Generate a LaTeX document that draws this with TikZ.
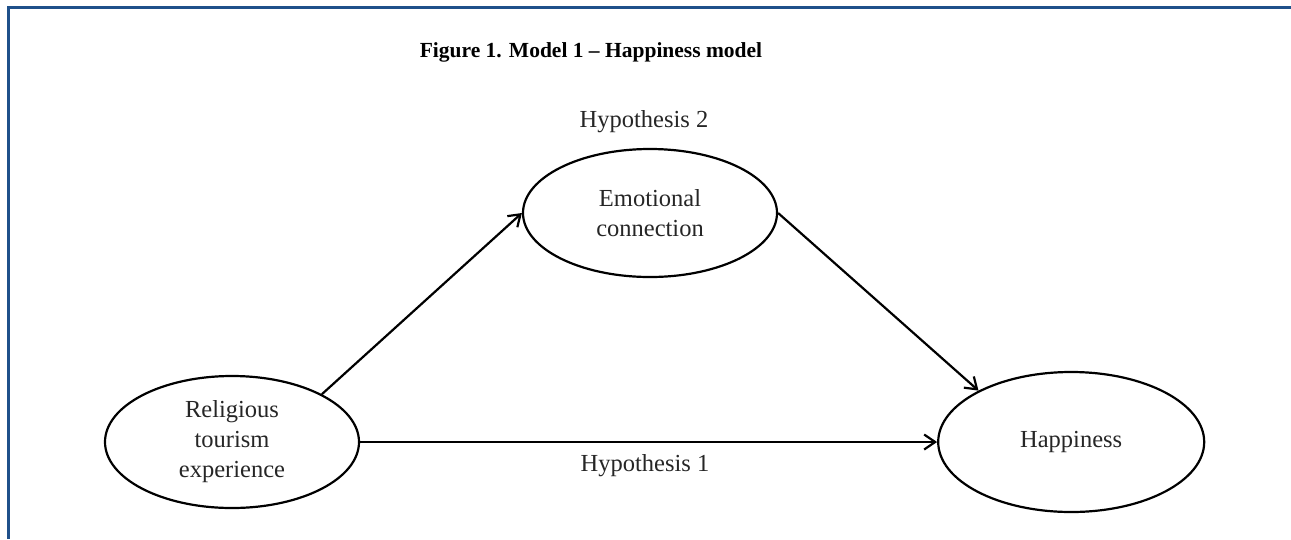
\documentclass[tikz,border=0pt]{standalone}
\usepackage{fontspec}
\setmainfont{Liberation Serif}
\usetikzlibrary{positioning, arrows.meta, shapes.geometric}
\definecolor{frameblue}{RGB}{31,80,138}

\begin{document}
\begin{tikzpicture}[
    x=1pt, y=-1pt,
    construct/.style={ellipse, draw, line width=2.2pt, align=center, inner sep=0pt, font=\fontsize{24.5}{30}\selectfont, text=black!85},
    label/.style={font=\fontsize{24.5}{30}\selectfont, text=black!85},
    arrow/.style={-{Straight Barb[length=11pt, width=15pt]}, line width=2.2pt}
]
    \useasboundingbox (0,0) rectangle (1291,539);
    \draw[frameblue, line width=3pt] (1291,7.5) -- (8.5,7.5) -- (8.5,539);

    % NODES
    \node[font=\bfseries\fontsize{21.5}{26}\selectfont] (title) at (591,52) {Figure 1. Model 1 -- Happiness model};

    \node[construct, minimum width=254, minimum height=132] (religious) at (232,442) {Religious\\tourism\\experience};
    \node[construct, minimum width=254, minimum height=128] (emotional) at (650,213) {Emotional\\connection};
    \node[construct, minimum width=266, minimum height=140, right=577pt of religious] (happiness) {Happiness};

    \node[label] (hypo_two) at (644,122) {Hypothesis 2};
    \node[label] (hypo_one) at (645,466) {Hypothesis 1};

    % EDGES
    \draw[arrow] (religious.east) -- (happiness.west);
    \draw[arrow] (religious.28) -- (emotional.west);
    \draw[arrow] (emotional.east) -- (happiness.151);

\end{tikzpicture}
\end{document}
